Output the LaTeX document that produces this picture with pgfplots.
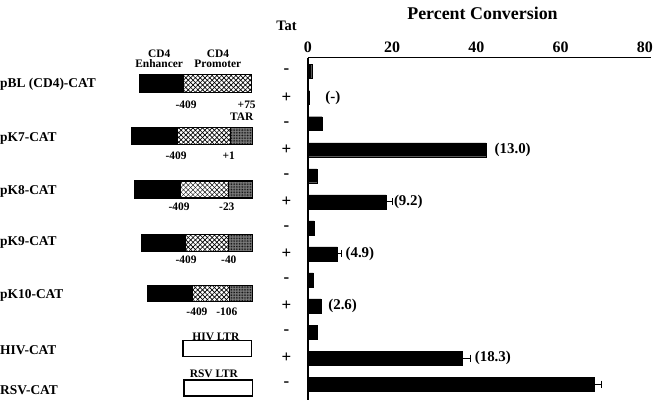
\documentclass[border=0pt]{standalone}
\usepackage{fontspec}
\setmainfont{Liberation Serif}
\usepackage{pgfplots}
\pgfplotsset{compat=1.18}
\usetikzlibrary{patterns,patterns.meta}

\newcommand\fsz[1]{\fontsize{#1bp}{#1bp}\selectfont\bfseries}

\tikzset{
  hatchA/.style={pattern={Lines[angle=45,distance=3.4pt,line width=#1]}},
  hatchB/.style={pattern={Lines[angle=-45,distance=3.4pt,line width=#1]}},
}

% promoter construct: top, bottom, start, enhancer end, promoter end, TAR end, hatch weight
\newcommand\construct[7]{%
  \fill[black] (#3,#1) rectangle (#4,#2);
  \fill[hatchA=#7] (#4,#1) rectangle (#5,#2);
  \fill[hatchB=#7] (#4,#1) rectangle (#5,#2);
  \fill[black!50] (#5,#1) rectangle (#6,#2);
  \fill[pattern={Dots[distance=1.6pt,radius=0.5pt]}] (#5,#1) rectangle (#6,#2);
  \draw[line width=0.8bp] (#5,#1) -- (#5,#2);
  \draw[line width=1.2bp] (#3,#1) rectangle (#6,#2);
}

\begin{document}
\begin{tikzpicture}
\begin{scope}[x=1bp,y=-1bp]
  \path[use as bounding box] (0,0) rectangle (656,404);

  \node[font=\fsz{18}] at (485,13) {Percent Conversion};
  \node[font=\fsz{14.5}] at (288,26) {Tat};

  % construct names
  \begin{scope}[every node/.style={anchor=west,inner sep=0pt,font=\fsz{13.5}}]
    \node at (0,85)  {pBL (CD4)-CAT};
    \node at (0,139) {pK7-CAT};
    \node at (0,192) {pK8-CAT};
    \node at (0,244) {pK9-CAT};
    \node at (0,297) {pK10-CAT};
    \node at (0,352) {HIV-CAT};
    \node at (0,392) {RSV-CAT};
  \end{scope}

  % region headers
  \node[font=\fsz{11.5},align=center,inner sep=0pt] at (160,59) {CD4\\[-1bp]Enhancer};
  \node[font=\fsz{11.5},align=center,inner sep=0pt] at (219,59) {CD4\\[-1bp]Promoter};

  % constructs
  \construct{75}{93}{140}{185}{253}{253}{0.7pt}
  \construct{128}{145}{132}{179}{232}{254}{0.7pt}
  \construct{182}{199}{135}{182}{230}{254}{0.45pt}
  \construct{236}{253}{142}{187}{230}{254}{0.7pt}
  \construct{287}{303}{148}{194}{231}{254}{0.7pt}
  \draw[line width=1.2bp] (184,342) rectangle (253,358);
  \draw[line width=1.2bp] (185,382) rectangle (254,398);

  \begin{scope}[every node/.style={inner sep=0pt,font=\fsz{11.5}}]
    \node at (187,105) {-409}; \node at (248,105) {+75};
    \node at (243,117) {TAR};
    \node at (177,157) {-409}; \node at (230,157) {+1};
    \node at (180,208) {-409}; \node at (228,208) {-23};
    \node at (187,261) {-409}; \node at (230,261) {-40};
    \node at (198,313) {-409}; \node at (228,313) {-106};
    \node[anchor=base] at (217,342.5) {HIV LTR};
    \node[anchor=base] at (215,379) {RSV LTR};
  \end{scope}
\end{scope}

\begin{axis}[
  at={(309.5bp,-58bp)}, anchor=north west,
  scale only axis, width=344.5bp, height=344bp,
  xmin=0, xmax=81.4, ymin=-0.61, ymax=12.535,
  axis x line=top, axis y line=left,
  axis line style={-, line width=1.3bp},
  xtick={0,20,40,60,80},
  xticklabels={0,20,40,60,80},
  ytick={0,...,12},
  yticklabels={-,+,-,+,-,+,-,+,-,+,-,+,-},
  /pgf/number format/assume math mode=true,
  major tick length=0pt,
  xticklabel style={font=\fsz{16}, yshift=2bp},
  yticklabel style={font=\fsz{17}, anchor=center, xshift=-21.5bp},
  clip=false,
]
  % percent conversion, rows listed bottom (RSV) to top (pBL)
  \addplot[xbar, bar width=14bp, bar shift=0pt, fill=black, draw=black]
    coordinates {(2.1,2) (3.1,3) (1.3,4) (1.5,6) (2.1,8)
                 (42.3,9) (3.4,10) (0.4,11) (0.9,12)};
  \addplot[xbar, bar width=14bp, bar shift=0pt, fill=black, draw=black,
    error bars/.cd, x dir=plus, x explicit, error mark=|,
    error bar style={line width=0.8bp, black},
    error mark options={mark size=3.5bp, line width=0.8bp, black}]
    coordinates {(67.9,0) +- (1.7,0)
                 (36.6,1) +- (2.1,0)
                 (7.0,5)  +- (1.0,0)
                 (18.6,7) +- (1.4,0)};

  \begin{scope}[every node/.style={anchor=west,inner sep=0pt,font=\fsz{15}}]
    \node at (axis cs:4.1,11) {(-)};
    \node at (axis cs:44.3,9) {(13.0)};
    \node at (axis cs:20.4,7) {(9.2)};
    \node at (axis cs:8.9,5)  {(4.9)};
    \node at (axis cs:4.8,3)  {(2.6)};
    \node at (axis cs:39.6,1) {(18.3)};
  \end{scope}
\end{axis}
\end{tikzpicture}
\end{document}
